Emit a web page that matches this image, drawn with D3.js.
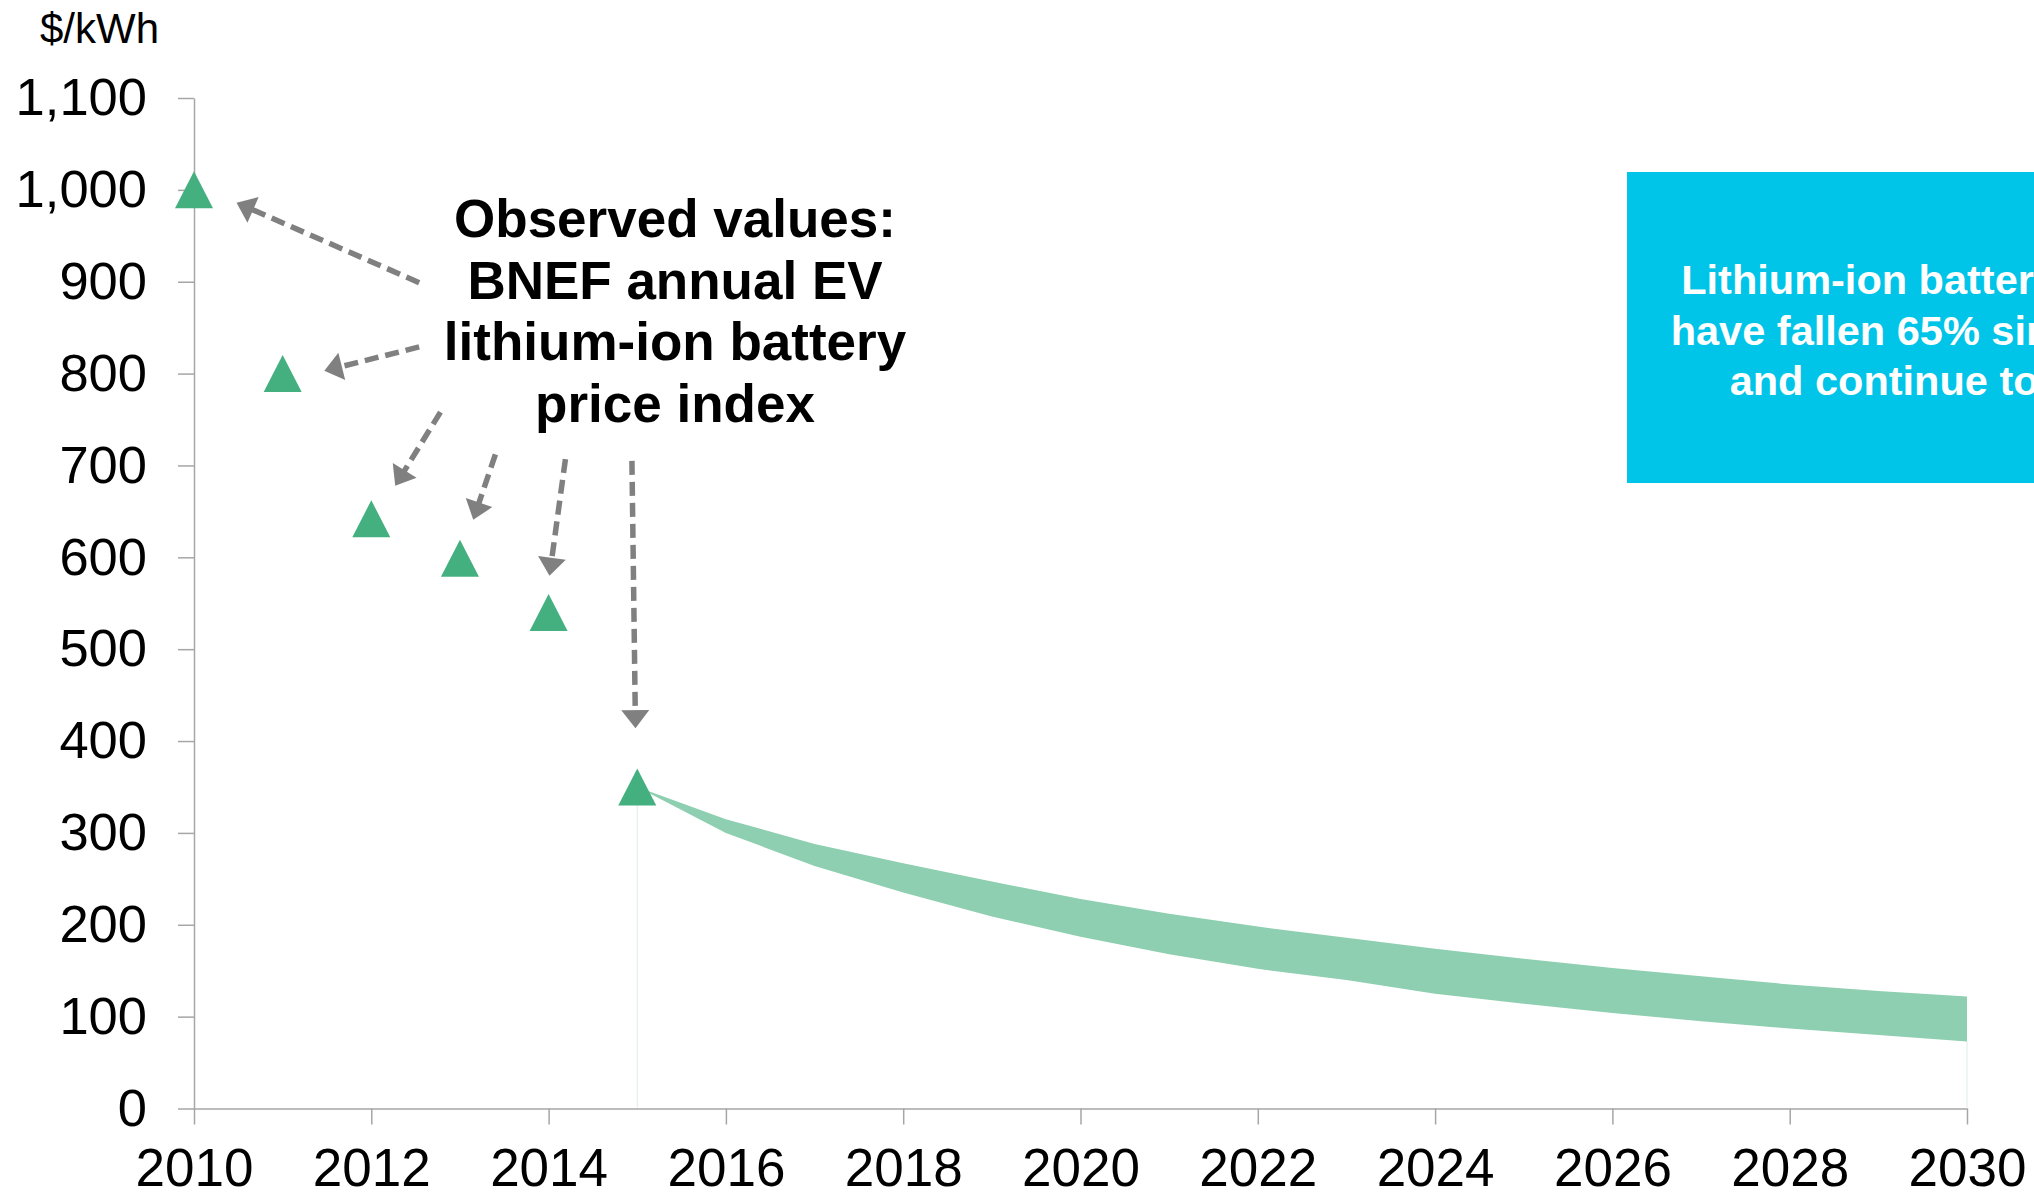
<!DOCTYPE html>
<html>
<head>
<meta charset="utf-8">
<script src="https://cdn.jsdelivr.net/npm/d3@7"></script>
<style>
  body { margin: 0; background: #fff; }
  svg { display: block; font-family: "Liberation Sans", Arial, sans-serif; }
</style>
</head>
<body>
<div id="vis"></div>
<script>
// observed BNEF price index ($/kWh)
var obsYears = [2010, 2011, 2012, 2013, 2014, 2015];
var obsPrices = [1000, 800, 642, 599, 540, 350];

// outlook band 2015-2030
var bandYears = [2015, 2016, 2017, 2018, 2019, 2020, 2021, 2022, 2023, 2024, 2025, 2026, 2027, 2028, 2029, 2030];
var bandHigh = [350, 315, 288, 267, 247, 228, 212, 198, 186, 174, 163, 153, 144, 135, 128, 122];
var bandLow  = [350, 300, 264, 235, 209, 187, 168, 152, 140, 125, 114, 104, 95, 87, 80, 73];

var xTicks = [2010, 2012, 2014, 2016, 2018, 2020, 2022, 2024, 2026, 2028, 2030];
var yTicks = [0, 100, 200, 300, 400, 500, 600, 700, 800, 900, 1000, 1100];

var noteLines = ["Observed values:", "BNEF annual EV", "lithium-ion battery", "price index"];
var boxLines = ["Lithium-ion battery prices", "have fallen 65% since 2010", "and continue to drop"];

// arrows, in data units: [year, value]
var arrowsFrom = [[2012.54, 899], [2012.54, 829], [2012.78, 758], [2013.40, 712], [2014.19, 707], [2014.94, 705]];
var arrowsTo   = [[2010.48, 986], [2011.47, 803], [2012.27, 678], [2013.15, 641], [2014.01, 580], [2014.98, 414]];

var W = 2034, H = 1196;
var svg = d3.select("#vis").append("svg")
  .attr("width", W)
  .attr("height", H);

var x = d3.scaleLinear().domain([2010, 2030]).range([194, 1967]);
var y = d3.scaleLinear().domain([0, 1100]).range([1108.5, 98]);

var axisColor = "#a6a6a6";

// y axis
var gy = svg.append("g")
  .attr("transform", "translate(" + x(2010) + ",0)")
  .call(d3.axisLeft(y).tickValues(yTicks).tickSize(16).tickSizeOuter(0).tickPadding(31).tickFormat(d3.format(",")));
gy.selectAll("path, line").attr("stroke", axisColor).attr("stroke-width", 1.5);
gy.selectAll("text").attr("font-size", 52.5).attr("fill", "#000").attr("font-family", "Liberation Sans, Arial, sans-serif");

// x axis
var gx = svg.append("g")
  .attr("transform", "translate(0," + y(0) + ")")
  .call(d3.axisBottom(x).tickValues(xTicks).tickSize(16).tickSizeOuter(0).tickPadding(24).tickFormat(d3.format("d")));
gx.selectAll("path, line").attr("stroke", axisColor).attr("stroke-width", 1.5);
gx.selectAll("text").attr("font-size", 53).attr("fill", "#000").attr("font-family", "Liberation Sans, Arial, sans-serif");

svg.append("text")
  .attr("x", 40)
  .attr("y", 43)
  .attr("font-size", 42)
  .attr("fill", "#000")
  .text("$/kWh");

// faint drop lines at band ends
var ends = [0, bandYears.length - 1];
svg.selectAll(".drop")
  .data(ends)
  .enter().append("line")
  .attr("class", "drop")
  .attr("x1", function(i) { return x(bandYears[i]); })
  .attr("x2", function(i) { return x(bandYears[i]); })
  .attr("y1", function(i) { return y(bandLow[i]); })
  .attr("y2", y(0) - 1)
  .attr("stroke", "#e4eeea")
  .attr("stroke-width", 1.2);

// band
var band = bandYears.map(function(d, i) { return {year: d, hi: bandHigh[i], lo: bandLow[i]}; });
var area = d3.area()
  .x(function(d) { return x(d.year); })
  .y0(function(d) { return y(d.lo); })
  .y1(function(d) { return y(d.hi); });

svg.append("path")
  .datum(band)
  .attr("d", area)
  .attr("fill", "#8dcfb0");

// observed triangles
var tri = "M0,-18.5L19,18.5L-19,18.5Z";
svg.selectAll(".obs")
  .data(obsYears)
  .enter().append("path")
  .attr("class", "obs")
  .attr("d", tri)
  .attr("transform", function(d, i) { return "translate(" + x(d) + "," + y(obsPrices[i]) + ")"; })
  .attr("fill", "#45b07f");

// dashed arrows
var headLen = 18, headW = 14;
arrowsFrom.forEach(function(f, i) {
  var t = arrowsTo[i];
  var x1 = x(f[0]), y1 = y(f[1]), x2 = x(t[0]), y2 = y(t[1]);
  var dx = x2 - x1, dy = y2 - y1, len = Math.sqrt(dx * dx + dy * dy);
  var ux = dx / len, uy = dy / len;
  var bx = x2 - ux * headLen, by = y2 - uy * headLen;
  svg.append("line")
    .attr("x1", x1).attr("y1", y1)
    .attr("x2", bx + ux * 2).attr("y2", by + uy * 2)
    .attr("stroke", "#808080")
    .attr("stroke-width", 5.5)
    .attr("stroke-dasharray", "14,7");
  svg.append("path")
    .attr("d", "M" + x2 + "," + y2 +
      "L" + (bx - uy * headW) + "," + (by + ux * headW) +
      "L" + (bx + uy * headW) + "," + (by - ux * headW) + "Z")
    .attr("fill", "#808080");
});

// note
svg.append("g").selectAll("text")
  .data(noteLines)
  .enter().append("text")
  .attr("x", 675)
  .attr("y", function(d, i) { return 237 + i * 61.5; })
  .attr("text-anchor", "middle")
  .attr("font-size", 53)
  .attr("font-weight", "bold")
  .attr("fill", "#000")
  .text(function(d) { return d; });

// cyan callout box
svg.append("rect")
  .attr("x", 1627)
  .attr("y", 172)
  .attr("width", 620)
  .attr("height", 311)
  .attr("fill", "#00c4e8");

svg.append("g").selectAll("text")
  .data(boxLines)
  .enter().append("text")
  .attr("x", 1936)
  .attr("y", function(d, i) { return 294 + i * 50.5; })
  .attr("text-anchor", "middle")
  .attr("font-size", 41.5)
  .attr("font-weight", "bold")
  .attr("fill", "#fff")
  .text(function(d) { return d; });
</script>
</body>
</html>
